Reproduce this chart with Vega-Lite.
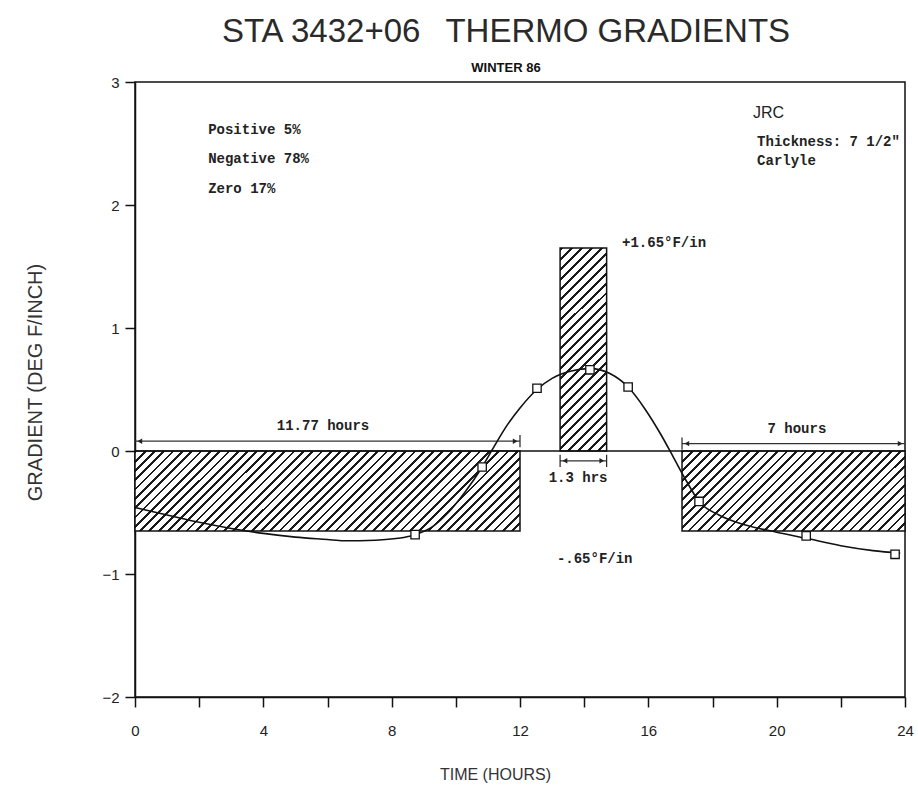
{
  "$schema": "https://vega.github.io/schema/vega-lite/v6.json",
  "autosize": {"type": "none"},
  "padding": {"left": 135, "top": 82, "right": 13, "bottom": 90},
  "width": 770,
  "height": 615,
  "background": "white",
  "title": {
    "text": "STA 3432+06\u2002 THERMO GRADIENTS",
    "subtitle": "WINTER 86",
    "font": "Liberation Sans",
    "fontSize": 33,
    "fontWeight": "normal",
    "color": "#2a2a2a",
    "subtitleFont": "Liberation Sans",
    "subtitleFontSize": 13,
    "subtitleFontWeight": "bold",
    "subtitleColor": "#111",
    "subtitlePadding": 13,
    "anchor": "middle",
    "frame": "group",
    "offset": 0,
    "dx": -14
  },
  "config": {
    "font": "Liberation Sans",
    "view": {"stroke": "#111", "strokeWidth": 1.5},
    "axis": {
      "grid": false,
      "domainColor": "#111",
      "tickColor": "#111",
      "domainWidth": 1.5,
      "tickWidth": 1.5,
      "labelColor": "#222",
      "titleColor": "#333",
      "labelFont": "Liberation Sans",
      "titleFont": "Liberation Sans",
      "titleFontWeight": "normal"
    }
  },
  "encoding": {
    "x": {
      "field": "hour",
      "type": "quantitative",
      "scale": {"domain": [0, 24], "nice": false, "zero": false},
      "axis": {
        "title": "TIME (HOURS)",
        "values": [0, 2, 4, 6, 8, 10, 12, 14, 16, 18, 20, 22, 24],
        "labelExpr": "datum.value % 4 === 0 ? datum.label : ''",
        "tickSize": 10,
        "labelPadding": 16,
        "labelFontSize": 15,
        "labelFlush": false,
        "labelOverlap": false,
        "titleFontSize": 16,
        "titleX": 360,
        "titleY": 77,
        "titleBaseline": "middle",
        "titleAlign": "center"
      }
    },
    "y": {
      "field": "gradient",
      "type": "quantitative",
      "scale": {"domain": [-2, 3], "nice": false, "zero": false},
      "axis": {
        "title": "GRADIENT (DEG F/INCH)",
        "values": [-2, -1, 0, 1, 2, 3],
        "tickSize": 10,
        "labelPadding": 6,
        "labelFontSize": 15,
        "titleFontSize": 20,
        "titleX": -100,
        "titleY": 300,
        "titleAngle": -90,
        "titleAlign": "center",
        "titleBaseline": "middle"
      }
    }
  },
  "layer": [
    {
      "data": {"values": [{"period": "negative (night)", "hour": 0, "hour_end": 12, "gradient": 0, "gradient_end": -0.65}]},
      "mark": {"type": "rect", "stroke": "#111", "strokeWidth": 1.5,
        "fill": {"gradient": "linear", "x1": 0, "y1": 0, "x2": 1.158, "y2": 0.2406, "stops": [
{"offset":0,"color":"#1a1a1a"},{"offset":0.006,"color":"#1a1a1a"},{"offset":0.006,"color":"#fff"},{"offset":0.02,"color":"#fff"},
{"offset":0.02,"color":"#1a1a1a"},{"offset":0.026,"color":"#1a1a1a"},{"offset":0.026,"color":"#fff"},{"offset":0.04,"color":"#fff"},
{"offset":0.04,"color":"#1a1a1a"},{"offset":0.046,"color":"#1a1a1a"},{"offset":0.046,"color":"#fff"},{"offset":0.06,"color":"#fff"},
{"offset":0.06,"color":"#1a1a1a"},{"offset":0.066,"color":"#1a1a1a"},{"offset":0.066,"color":"#fff"},{"offset":0.08,"color":"#fff"},
{"offset":0.08,"color":"#1a1a1a"},{"offset":0.086,"color":"#1a1a1a"},{"offset":0.086,"color":"#fff"},{"offset":0.1,"color":"#fff"},
{"offset":0.1,"color":"#1a1a1a"},{"offset":0.106,"color":"#1a1a1a"},{"offset":0.106,"color":"#fff"},{"offset":0.12,"color":"#fff"},
{"offset":0.12,"color":"#1a1a1a"},{"offset":0.126,"color":"#1a1a1a"},{"offset":0.126,"color":"#fff"},{"offset":0.14,"color":"#fff"},
{"offset":0.14,"color":"#1a1a1a"},{"offset":0.146,"color":"#1a1a1a"},{"offset":0.146,"color":"#fff"},{"offset":0.16,"color":"#fff"},
{"offset":0.16,"color":"#1a1a1a"},{"offset":0.166,"color":"#1a1a1a"},{"offset":0.166,"color":"#fff"},{"offset":0.18,"color":"#fff"},
{"offset":0.18,"color":"#1a1a1a"},{"offset":0.186,"color":"#1a1a1a"},{"offset":0.186,"color":"#fff"},{"offset":0.2,"color":"#fff"},
{"offset":0.2,"color":"#1a1a1a"},{"offset":0.206,"color":"#1a1a1a"},{"offset":0.206,"color":"#fff"},{"offset":0.22,"color":"#fff"},
{"offset":0.22,"color":"#1a1a1a"},{"offset":0.226,"color":"#1a1a1a"},{"offset":0.226,"color":"#fff"},{"offset":0.24,"color":"#fff"},
{"offset":0.24,"color":"#1a1a1a"},{"offset":0.246,"color":"#1a1a1a"},{"offset":0.246,"color":"#fff"},{"offset":0.26,"color":"#fff"},
{"offset":0.26,"color":"#1a1a1a"},{"offset":0.266,"color":"#1a1a1a"},{"offset":0.266,"color":"#fff"},{"offset":0.28,"color":"#fff"},
{"offset":0.28,"color":"#1a1a1a"},{"offset":0.286,"color":"#1a1a1a"},{"offset":0.286,"color":"#fff"},{"offset":0.3,"color":"#fff"},
{"offset":0.3,"color":"#1a1a1a"},{"offset":0.306,"color":"#1a1a1a"},{"offset":0.306,"color":"#fff"},{"offset":0.32,"color":"#fff"},
{"offset":0.32,"color":"#1a1a1a"},{"offset":0.326,"color":"#1a1a1a"},{"offset":0.326,"color":"#fff"},{"offset":0.34,"color":"#fff"},
{"offset":0.34,"color":"#1a1a1a"},{"offset":0.346,"color":"#1a1a1a"},{"offset":0.346,"color":"#fff"},{"offset":0.36,"color":"#fff"},
{"offset":0.36,"color":"#1a1a1a"},{"offset":0.366,"color":"#1a1a1a"},{"offset":0.366,"color":"#fff"},{"offset":0.38,"color":"#fff"},
{"offset":0.38,"color":"#1a1a1a"},{"offset":0.386,"color":"#1a1a1a"},{"offset":0.386,"color":"#fff"},{"offset":0.4,"color":"#fff"},
{"offset":0.4,"color":"#1a1a1a"},{"offset":0.406,"color":"#1a1a1a"},{"offset":0.406,"color":"#fff"},{"offset":0.42,"color":"#fff"},
{"offset":0.42,"color":"#1a1a1a"},{"offset":0.426,"color":"#1a1a1a"},{"offset":0.426,"color":"#fff"},{"offset":0.44,"color":"#fff"},
{"offset":0.44,"color":"#1a1a1a"},{"offset":0.446,"color":"#1a1a1a"},{"offset":0.446,"color":"#fff"},{"offset":0.46,"color":"#fff"},
{"offset":0.46,"color":"#1a1a1a"},{"offset":0.466,"color":"#1a1a1a"},{"offset":0.466,"color":"#fff"},{"offset":0.48,"color":"#fff"},
{"offset":0.48,"color":"#1a1a1a"},{"offset":0.486,"color":"#1a1a1a"},{"offset":0.486,"color":"#fff"},{"offset":0.5,"color":"#fff"},
{"offset":0.5,"color":"#1a1a1a"},{"offset":0.506,"color":"#1a1a1a"},{"offset":0.506,"color":"#fff"},{"offset":0.52,"color":"#fff"},
{"offset":0.52,"color":"#1a1a1a"},{"offset":0.526,"color":"#1a1a1a"},{"offset":0.526,"color":"#fff"},{"offset":0.54,"color":"#fff"},
{"offset":0.54,"color":"#1a1a1a"},{"offset":0.546,"color":"#1a1a1a"},{"offset":0.546,"color":"#fff"},{"offset":0.56,"color":"#fff"},
{"offset":0.56,"color":"#1a1a1a"},{"offset":0.566,"color":"#1a1a1a"},{"offset":0.566,"color":"#fff"},{"offset":0.58,"color":"#fff"},
{"offset":0.58,"color":"#1a1a1a"},{"offset":0.586,"color":"#1a1a1a"},{"offset":0.586,"color":"#fff"},{"offset":0.6,"color":"#fff"},
{"offset":0.6,"color":"#1a1a1a"},{"offset":0.606,"color":"#1a1a1a"},{"offset":0.606,"color":"#fff"},{"offset":0.62,"color":"#fff"},
{"offset":0.62,"color":"#1a1a1a"},{"offset":0.626,"color":"#1a1a1a"},{"offset":0.626,"color":"#fff"},{"offset":0.64,"color":"#fff"},
{"offset":0.64,"color":"#1a1a1a"},{"offset":0.646,"color":"#1a1a1a"},{"offset":0.646,"color":"#fff"},{"offset":0.66,"color":"#fff"},
{"offset":0.66,"color":"#1a1a1a"},{"offset":0.666,"color":"#1a1a1a"},{"offset":0.666,"color":"#fff"},{"offset":0.68,"color":"#fff"},
{"offset":0.68,"color":"#1a1a1a"},{"offset":0.686,"color":"#1a1a1a"},{"offset":0.686,"color":"#fff"},{"offset":0.7,"color":"#fff"},
{"offset":0.7,"color":"#1a1a1a"},{"offset":0.706,"color":"#1a1a1a"},{"offset":0.706,"color":"#fff"},{"offset":0.72,"color":"#fff"},
{"offset":0.72,"color":"#1a1a1a"},{"offset":0.726,"color":"#1a1a1a"},{"offset":0.726,"color":"#fff"},{"offset":0.74,"color":"#fff"},
{"offset":0.74,"color":"#1a1a1a"},{"offset":0.746,"color":"#1a1a1a"},{"offset":0.746,"color":"#fff"},{"offset":0.76,"color":"#fff"},
{"offset":0.76,"color":"#1a1a1a"},{"offset":0.766,"color":"#1a1a1a"},{"offset":0.766,"color":"#fff"},{"offset":0.78,"color":"#fff"},
{"offset":0.78,"color":"#1a1a1a"},{"offset":0.786,"color":"#1a1a1a"},{"offset":0.786,"color":"#fff"},{"offset":0.8,"color":"#fff"},
{"offset":0.8,"color":"#1a1a1a"},{"offset":0.806,"color":"#1a1a1a"},{"offset":0.806,"color":"#fff"},{"offset":0.82,"color":"#fff"},
{"offset":0.82,"color":"#1a1a1a"},{"offset":0.826,"color":"#1a1a1a"},{"offset":0.826,"color":"#fff"},{"offset":0.84,"color":"#fff"},
{"offset":0.84,"color":"#1a1a1a"},{"offset":0.846,"color":"#1a1a1a"},{"offset":0.846,"color":"#fff"},{"offset":0.86,"color":"#fff"},
{"offset":0.86,"color":"#1a1a1a"},{"offset":0.866,"color":"#1a1a1a"},{"offset":0.866,"color":"#fff"},{"offset":0.88,"color":"#fff"},
{"offset":0.88,"color":"#1a1a1a"},{"offset":0.886,"color":"#1a1a1a"},{"offset":0.886,"color":"#fff"},{"offset":0.9,"color":"#fff"},
{"offset":0.9,"color":"#1a1a1a"},{"offset":0.906,"color":"#1a1a1a"},{"offset":0.906,"color":"#fff"},{"offset":0.92,"color":"#fff"},
{"offset":0.92,"color":"#1a1a1a"},{"offset":0.926,"color":"#1a1a1a"},{"offset":0.926,"color":"#fff"},{"offset":0.94,"color":"#fff"},
{"offset":0.94,"color":"#1a1a1a"},{"offset":0.946,"color":"#1a1a1a"},{"offset":0.946,"color":"#fff"},{"offset":0.96,"color":"#fff"},
{"offset":0.96,"color":"#1a1a1a"},{"offset":0.966,"color":"#1a1a1a"},{"offset":0.966,"color":"#fff"},{"offset":0.98,"color":"#fff"},
{"offset":0.98,"color":"#1a1a1a"},{"offset":0.986,"color":"#1a1a1a"},{"offset":0.986,"color":"#fff"},{"offset":1,"color":"#fff"}
        ]}},
      "encoding": {"x2": {"field": "hour_end"}, "y2": {"field": "gradient_end"}}
    },
    {
      "data": {"values": [{"period": "positive (midday)", "hour": 13.25, "hour_end": 14.7, "gradient": 0, "gradient_end": 1.65}]},
      "mark": {"type": "rect", "stroke": "#111", "strokeWidth": 1.5,
        "fill": {"gradient": "linear", "x1": 0, "y1": 0, "x2": 0.2675, "y2": 1.168, "stops": [
{"offset":0,"color":"#1a1a1a"},{"offset":0.012,"color":"#1a1a1a"},{"offset":0.012,"color":"#fff"},{"offset":0.04,"color":"#fff"},
{"offset":0.04,"color":"#1a1a1a"},{"offset":0.052,"color":"#1a1a1a"},{"offset":0.052,"color":"#fff"},{"offset":0.08,"color":"#fff"},
{"offset":0.08,"color":"#1a1a1a"},{"offset":0.092,"color":"#1a1a1a"},{"offset":0.092,"color":"#fff"},{"offset":0.12,"color":"#fff"},
{"offset":0.12,"color":"#1a1a1a"},{"offset":0.132,"color":"#1a1a1a"},{"offset":0.132,"color":"#fff"},{"offset":0.16,"color":"#fff"},
{"offset":0.16,"color":"#1a1a1a"},{"offset":0.172,"color":"#1a1a1a"},{"offset":0.172,"color":"#fff"},{"offset":0.2,"color":"#fff"},
{"offset":0.2,"color":"#1a1a1a"},{"offset":0.212,"color":"#1a1a1a"},{"offset":0.212,"color":"#fff"},{"offset":0.24,"color":"#fff"},
{"offset":0.24,"color":"#1a1a1a"},{"offset":0.252,"color":"#1a1a1a"},{"offset":0.252,"color":"#fff"},{"offset":0.28,"color":"#fff"},
{"offset":0.28,"color":"#1a1a1a"},{"offset":0.292,"color":"#1a1a1a"},{"offset":0.292,"color":"#fff"},{"offset":0.32,"color":"#fff"},
{"offset":0.32,"color":"#1a1a1a"},{"offset":0.332,"color":"#1a1a1a"},{"offset":0.332,"color":"#fff"},{"offset":0.36,"color":"#fff"},
{"offset":0.36,"color":"#1a1a1a"},{"offset":0.372,"color":"#1a1a1a"},{"offset":0.372,"color":"#fff"},{"offset":0.4,"color":"#fff"},
{"offset":0.4,"color":"#1a1a1a"},{"offset":0.412,"color":"#1a1a1a"},{"offset":0.412,"color":"#fff"},{"offset":0.44,"color":"#fff"},
{"offset":0.44,"color":"#1a1a1a"},{"offset":0.452,"color":"#1a1a1a"},{"offset":0.452,"color":"#fff"},{"offset":0.48,"color":"#fff"},
{"offset":0.48,"color":"#1a1a1a"},{"offset":0.492,"color":"#1a1a1a"},{"offset":0.492,"color":"#fff"},{"offset":0.52,"color":"#fff"},
{"offset":0.52,"color":"#1a1a1a"},{"offset":0.532,"color":"#1a1a1a"},{"offset":0.532,"color":"#fff"},{"offset":0.56,"color":"#fff"},
{"offset":0.56,"color":"#1a1a1a"},{"offset":0.572,"color":"#1a1a1a"},{"offset":0.572,"color":"#fff"},{"offset":0.6,"color":"#fff"},
{"offset":0.6,"color":"#1a1a1a"},{"offset":0.612,"color":"#1a1a1a"},{"offset":0.612,"color":"#fff"},{"offset":0.64,"color":"#fff"},
{"offset":0.64,"color":"#1a1a1a"},{"offset":0.652,"color":"#1a1a1a"},{"offset":0.652,"color":"#fff"},{"offset":0.68,"color":"#fff"},
{"offset":0.68,"color":"#1a1a1a"},{"offset":0.692,"color":"#1a1a1a"},{"offset":0.692,"color":"#fff"},{"offset":0.72,"color":"#fff"},
{"offset":0.72,"color":"#1a1a1a"},{"offset":0.732,"color":"#1a1a1a"},{"offset":0.732,"color":"#fff"},{"offset":0.76,"color":"#fff"},
{"offset":0.76,"color":"#1a1a1a"},{"offset":0.772,"color":"#1a1a1a"},{"offset":0.772,"color":"#fff"},{"offset":0.8,"color":"#fff"},
{"offset":0.8,"color":"#1a1a1a"},{"offset":0.812,"color":"#1a1a1a"},{"offset":0.812,"color":"#fff"},{"offset":0.84,"color":"#fff"},
{"offset":0.84,"color":"#1a1a1a"},{"offset":0.852,"color":"#1a1a1a"},{"offset":0.852,"color":"#fff"},{"offset":0.88,"color":"#fff"},
{"offset":0.88,"color":"#1a1a1a"},{"offset":0.892,"color":"#1a1a1a"},{"offset":0.892,"color":"#fff"},{"offset":0.92,"color":"#fff"},
{"offset":0.92,"color":"#1a1a1a"},{"offset":0.932,"color":"#1a1a1a"},{"offset":0.932,"color":"#fff"},{"offset":0.96,"color":"#fff"},
{"offset":0.96,"color":"#1a1a1a"},{"offset":0.972,"color":"#1a1a1a"},{"offset":0.972,"color":"#fff"},{"offset":1,"color":"#fff"}
        ]}},
      "encoding": {"x2": {"field": "hour_end"}, "y2": {"field": "gradient_end"}}
    },
    {
      "data": {"values": [{"period": "negative (evening)", "hour": 17.05, "hour_end": 24, "gradient": 0, "gradient_end": -0.65}]},
      "mark": {"type": "rect", "stroke": "#111", "strokeWidth": 1.5,
        "fill": {"gradient": "linear", "x1": 0, "y1": 0, "x2": 1.204, "y2": 0.4319, "stops": [
{"offset":0,"color":"#1a1a1a"},{"offset":0.009,"color":"#1a1a1a"},{"offset":0.009,"color":"#fff"},{"offset":0.03125,"color":"#fff"},
{"offset":0.03125,"color":"#1a1a1a"},{"offset":0.04025,"color":"#1a1a1a"},{"offset":0.04025,"color":"#fff"},{"offset":0.0625,"color":"#fff"},
{"offset":0.0625,"color":"#1a1a1a"},{"offset":0.0715,"color":"#1a1a1a"},{"offset":0.0715,"color":"#fff"},{"offset":0.09375,"color":"#fff"},
{"offset":0.09375,"color":"#1a1a1a"},{"offset":0.10275,"color":"#1a1a1a"},{"offset":0.10275,"color":"#fff"},{"offset":0.125,"color":"#fff"},
{"offset":0.125,"color":"#1a1a1a"},{"offset":0.134,"color":"#1a1a1a"},{"offset":0.134,"color":"#fff"},{"offset":0.15625,"color":"#fff"},
{"offset":0.15625,"color":"#1a1a1a"},{"offset":0.16525,"color":"#1a1a1a"},{"offset":0.16525,"color":"#fff"},{"offset":0.1875,"color":"#fff"},
{"offset":0.1875,"color":"#1a1a1a"},{"offset":0.1965,"color":"#1a1a1a"},{"offset":0.1965,"color":"#fff"},{"offset":0.21875,"color":"#fff"},
{"offset":0.21875,"color":"#1a1a1a"},{"offset":0.22775,"color":"#1a1a1a"},{"offset":0.22775,"color":"#fff"},{"offset":0.25,"color":"#fff"},
{"offset":0.25,"color":"#1a1a1a"},{"offset":0.259,"color":"#1a1a1a"},{"offset":0.259,"color":"#fff"},{"offset":0.28125,"color":"#fff"},
{"offset":0.28125,"color":"#1a1a1a"},{"offset":0.29025,"color":"#1a1a1a"},{"offset":0.29025,"color":"#fff"},{"offset":0.3125,"color":"#fff"},
{"offset":0.3125,"color":"#1a1a1a"},{"offset":0.3215,"color":"#1a1a1a"},{"offset":0.3215,"color":"#fff"},{"offset":0.34375,"color":"#fff"},
{"offset":0.34375,"color":"#1a1a1a"},{"offset":0.35275,"color":"#1a1a1a"},{"offset":0.35275,"color":"#fff"},{"offset":0.375,"color":"#fff"},
{"offset":0.375,"color":"#1a1a1a"},{"offset":0.384,"color":"#1a1a1a"},{"offset":0.384,"color":"#fff"},{"offset":0.40625,"color":"#fff"},
{"offset":0.40625,"color":"#1a1a1a"},{"offset":0.41525,"color":"#1a1a1a"},{"offset":0.41525,"color":"#fff"},{"offset":0.4375,"color":"#fff"},
{"offset":0.4375,"color":"#1a1a1a"},{"offset":0.4465,"color":"#1a1a1a"},{"offset":0.4465,"color":"#fff"},{"offset":0.46875,"color":"#fff"},
{"offset":0.46875,"color":"#1a1a1a"},{"offset":0.47775,"color":"#1a1a1a"},{"offset":0.47775,"color":"#fff"},{"offset":0.5,"color":"#fff"},
{"offset":0.5,"color":"#1a1a1a"},{"offset":0.509,"color":"#1a1a1a"},{"offset":0.509,"color":"#fff"},{"offset":0.53125,"color":"#fff"},
{"offset":0.53125,"color":"#1a1a1a"},{"offset":0.54025,"color":"#1a1a1a"},{"offset":0.54025,"color":"#fff"},{"offset":0.5625,"color":"#fff"},
{"offset":0.5625,"color":"#1a1a1a"},{"offset":0.5715,"color":"#1a1a1a"},{"offset":0.5715,"color":"#fff"},{"offset":0.59375,"color":"#fff"},
{"offset":0.59375,"color":"#1a1a1a"},{"offset":0.60275,"color":"#1a1a1a"},{"offset":0.60275,"color":"#fff"},{"offset":0.625,"color":"#fff"},
{"offset":0.625,"color":"#1a1a1a"},{"offset":0.634,"color":"#1a1a1a"},{"offset":0.634,"color":"#fff"},{"offset":0.65625,"color":"#fff"},
{"offset":0.65625,"color":"#1a1a1a"},{"offset":0.66525,"color":"#1a1a1a"},{"offset":0.66525,"color":"#fff"},{"offset":0.6875,"color":"#fff"},
{"offset":0.6875,"color":"#1a1a1a"},{"offset":0.6965,"color":"#1a1a1a"},{"offset":0.6965,"color":"#fff"},{"offset":0.71875,"color":"#fff"},
{"offset":0.71875,"color":"#1a1a1a"},{"offset":0.72775,"color":"#1a1a1a"},{"offset":0.72775,"color":"#fff"},{"offset":0.75,"color":"#fff"},
{"offset":0.75,"color":"#1a1a1a"},{"offset":0.759,"color":"#1a1a1a"},{"offset":0.759,"color":"#fff"},{"offset":0.78125,"color":"#fff"},
{"offset":0.78125,"color":"#1a1a1a"},{"offset":0.79025,"color":"#1a1a1a"},{"offset":0.79025,"color":"#fff"},{"offset":0.8125,"color":"#fff"},
{"offset":0.8125,"color":"#1a1a1a"},{"offset":0.8215,"color":"#1a1a1a"},{"offset":0.8215,"color":"#fff"},{"offset":0.84375,"color":"#fff"},
{"offset":0.84375,"color":"#1a1a1a"},{"offset":0.85275,"color":"#1a1a1a"},{"offset":0.85275,"color":"#fff"},{"offset":0.875,"color":"#fff"},
{"offset":0.875,"color":"#1a1a1a"},{"offset":0.884,"color":"#1a1a1a"},{"offset":0.884,"color":"#fff"},{"offset":0.90625,"color":"#fff"},
{"offset":0.90625,"color":"#1a1a1a"},{"offset":0.91525,"color":"#1a1a1a"},{"offset":0.91525,"color":"#fff"},{"offset":0.9375,"color":"#fff"},
{"offset":0.9375,"color":"#1a1a1a"},{"offset":0.9465,"color":"#1a1a1a"},{"offset":0.9465,"color":"#fff"},{"offset":0.96875,"color":"#fff"},
{"offset":0.96875,"color":"#1a1a1a"},{"offset":0.97775,"color":"#1a1a1a"},{"offset":0.97775,"color":"#fff"},{"offset":1,"color":"#fff"}
        ]}},
      "encoding": {"x2": {"field": "hour_end"}, "y2": {"field": "gradient_end"}}
    },
    {
      "data": {"values": [{"hour": 0, "hour_end": 24, "gradient": 0}]},
      "mark": {"type": "rule", "stroke": "#111", "strokeWidth": 1.5},
      "encoding": {"x2": {"field": "hour_end"}}
    },
    {
      "data": {"values": [
        {"span": "11.77 hours", "hour": 0, "hour_end": 12, "gradient": 0.08},
        {"span": "7 hours", "hour": 17.05, "hour_end": 24, "gradient": 0.06},
        {"span": "1.3 hrs", "hour": 13.25, "hour_end": 14.7, "gradient": -0.08}
      ]},
      "mark": {"type": "rule", "stroke": "#333", "strokeWidth": 1.2},
      "encoding": {"x2": {"field": "hour_end"}}
    },
    {
      "data": {"values": [
        {"hour": 12, "gradient": 0.03, "gradient_end": 0.13},
        {"hour": 17.05, "gradient": 0.01, "gradient_end": 0.11},
        {"hour": 13.25, "gradient": -0.03, "gradient_end": -0.13},
        {"hour": 14.7, "gradient": -0.03, "gradient_end": -0.13}
      ]},
      "mark": {"type": "rule", "stroke": "#222", "strokeWidth": 1.2},
      "encoding": {"y2": {"field": "gradient_end"}}
    },
    {
      "data": {"values": [
        {"hour": 0.15, "gradient": 0.08},
        {"hour": 17.2, "gradient": 0.06},
        {"hour": 13.4, "gradient": -0.08}
      ]},
      "mark": {"type": "point", "shape": "triangle-left", "size": 30, "filled": true, "color": "#222", "opacity": 1},
      "encoding": {}
    },
    {
      "data": {"values": [
        {"hour": 11.85, "gradient": 0.08},
        {"hour": 23.85, "gradient": 0.06},
        {"hour": 14.55, "gradient": -0.08}
      ]},
      "mark": {"type": "point", "shape": "triangle-right", "size": 30, "filled": true, "color": "#222", "opacity": 1},
      "encoding": {}
    },
    {
      "data": {"values": [
        {"hour": 0, "gradient": -0.46},
        {"hour": 1, "gradient": -0.52},
        {"hour": 2, "gradient": -0.58},
        {"hour": 3, "gradient": -0.63},
        {"hour": 4, "gradient": -0.67},
        {"hour": 5, "gradient": -0.70},
        {"hour": 6, "gradient": -0.72},
        {"hour": 6.5, "gradient": -0.73},
        {"hour": 7.5, "gradient": -0.725},
        {"hour": 8.2, "gradient": -0.71},
        {"hour": 8.73, "gradient": -0.68},
        {"hour": 9.3, "gradient": -0.61},
        {"hour": 9.8, "gradient": -0.49},
        {"hour": 10.3, "gradient": -0.33},
        {"hour": 10.82, "gradient": -0.13},
        {"hour": 11.2, "gradient": 0.04},
        {"hour": 11.6, "gradient": 0.21},
        {"hour": 12.0, "gradient": 0.35},
        {"hour": 12.53, "gradient": 0.5},
        {"hour": 13.0, "gradient": 0.59},
        {"hour": 13.6, "gradient": 0.65},
        {"hour": 14.2, "gradient": 0.67},
        {"hour": 14.8, "gradient": 0.63},
        {"hour": 15.37, "gradient": 0.52},
        {"hour": 15.9, "gradient": 0.34},
        {"hour": 16.4, "gradient": 0.13},
        {"hour": 16.8, "gradient": -0.06},
        {"hour": 17.2, "gradient": -0.25},
        {"hour": 17.58, "gradient": -0.41},
        {"hour": 18.2, "gradient": -0.52},
        {"hour": 19.0, "gradient": -0.6},
        {"hour": 20.0, "gradient": -0.66},
        {"hour": 20.92, "gradient": -0.71},
        {"hour": 22.0, "gradient": -0.77},
        {"hour": 23.0, "gradient": -0.81},
        {"hour": 23.85, "gradient": -0.83}
      ]},
      "mark": {"type": "line", "interpolate": "monotone", "stroke": "#111", "strokeWidth": 1.6},
      "encoding": {}
    },
    {
      "data": {"values": [
        {"hour": 8.73, "gradient": -0.68},
        {"hour": 10.82, "gradient": -0.13},
        {"hour": 12.53, "gradient": 0.51},
        {"hour": 14.18, "gradient": 0.66},
        {"hour": 15.37, "gradient": 0.52},
        {"hour": 17.58, "gradient": -0.41},
        {"hour": 20.92, "gradient": -0.69},
        {"hour": 23.69, "gradient": -0.84}
      ]},
      "mark": {"type": "point", "shape": "square", "size": 70, "filled": true, "fill": "white", "stroke": "#111", "strokeWidth": 1.3, "opacity": 1},
      "encoding": {}
    },
    {
      "data": {"values": [
        {"hour": 2.28, "gradient": 2.61, "label": "Positive 5%"},
        {"hour": 2.28, "gradient": 2.37, "label": "Negative 78%"},
        {"hour": 2.28, "gradient": 2.13, "label": "Zero 17%"},
        {"hour": 19.39, "gradient": 2.51, "label": "Thickness: 7 1/2\""},
        {"hour": 19.39, "gradient": 2.36, "label": "Carlyle"},
        {"hour": 15.18, "gradient": 1.69, "label": "+1.65°F/in"},
        {"hour": 13.15, "gradient": -0.88, "label": "-.65°F/in"}
      ]},
      "mark": {"type": "text", "align": "left", "baseline": "middle", "font": "Liberation Mono", "fontSize": 14, "fontWeight": "bold", "color": "#222"},
      "encoding": {"text": {"field": "label"}}
    },
    {
      "data": {"values": [
        {"hour": 5.86, "gradient": 0.2, "label": "11.77 hours"},
        {"hour": 20.63, "gradient": 0.18, "label": "7 hours"},
        {"hour": 13.81, "gradient": -0.22, "label": "1.3 hrs"}
      ]},
      "mark": {"type": "text", "align": "center", "baseline": "middle", "font": "Liberation Mono", "fontSize": 14, "fontWeight": "bold", "color": "#222"},
      "encoding": {"text": {"field": "label"}}
    },
    {
      "data": {"values": [{"hour": 19.26, "gradient": 2.75, "label": "JRC"}]},
      "mark": {"type": "text", "align": "left", "baseline": "middle", "font": "Liberation Sans", "fontSize": 16, "color": "#222"},
      "encoding": {"text": {"field": "label"}}
    }
  ]
}
